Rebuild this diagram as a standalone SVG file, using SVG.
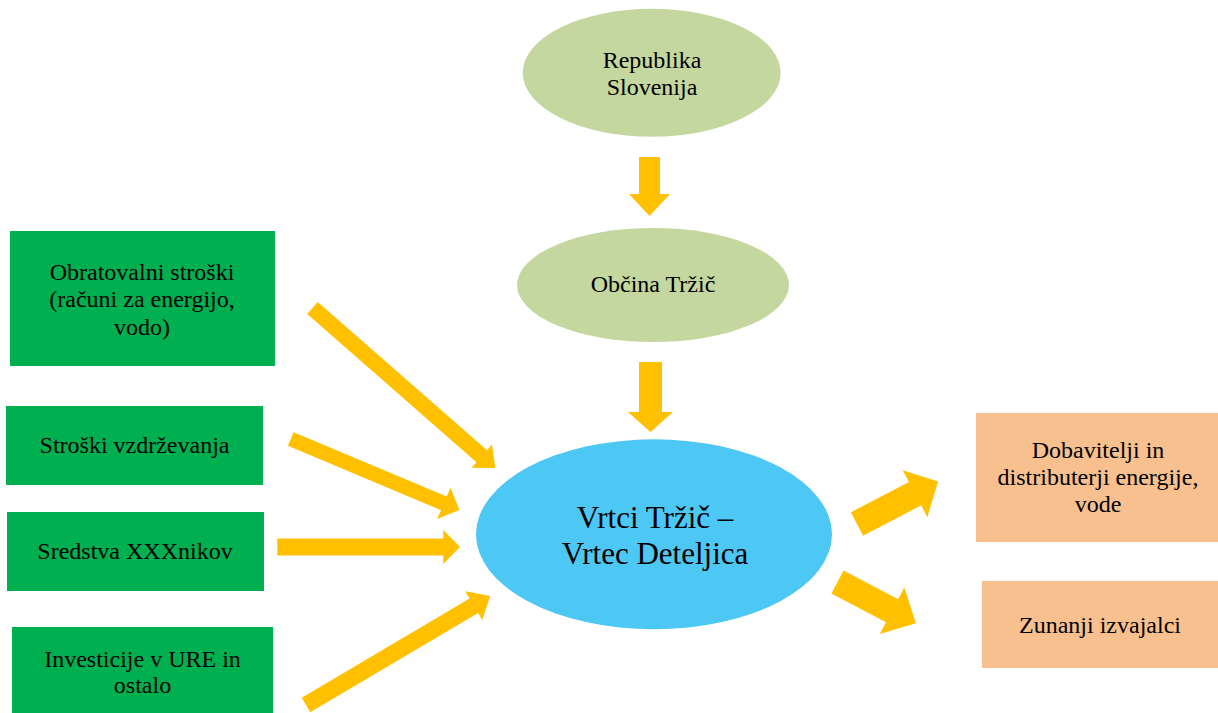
<svg xmlns="http://www.w3.org/2000/svg" width="1218" height="713" viewBox="0 0 1218 713">
<style>
.t{font-family:'Liberation Serif','Times New Roman',Times,serif;font-size:24px;fill:#000;text-anchor:middle}
.big{font-size:31px}
.green{fill:#00B050}
.peach{fill:#F8C08F}
.olive{fill:#C4D79F}
.blue{fill:#4DC8F4}
.arrow{fill:#FFC000}
</style>
<rect width="1218" height="713" fill="#fff"/>
<g id="connectors">
<polygon class="arrow" transform="translate(312.5,308) rotate(41.2)" points="0,-8 225,-8 225,-15.5 243,0 225,15.5 225,8 0,8"/>
<polygon class="arrow" transform="translate(290.8,439) rotate(22.8)" points="0,-7.4 166,-7.4 166,-17 183,0 166,17 166,7.4 0,7.4"/>
<polygon class="arrow" transform="translate(277.3,547)" points="0,-8.4 166,-8.4 166,-17 182.7,0 166,17 166,8.4 0,8.4"/>
<polygon class="arrow" transform="translate(306,705) rotate(-30.6)" points="0,-8.3 195,-8.3 195,-16.7 214,0 195,16.7 195,8.3 0,8.3"/>
<polygon class="arrow" transform="translate(857,524) rotate(-27.6)" points="0,-13.2 65.5,-13.2 65.5,-26.5 91.5,0 65.5,26.5 65.5,13.2 0,13.2"/>
<polygon class="arrow" transform="translate(837.5,582) rotate(27.8)" points="0,-13 61.7,-13 61.7,-26.3 88.7,0 61.7,26.3 61.7,13 0,13"/>
<polygon class="arrow" transform="translate(649.5,157) rotate(90)" points="0,-10.5 37,-10.5 37,-20.5 59,0 37,20.5 37,10.5 0,10.5"/>
<polygon class="arrow" transform="translate(650.5,362) rotate(90)" points="0,-11.5 50,-11.5 50,-22.5 70,0 50,22.5 50,11.5 0,11.5"/>
</g>
<g font-family="Liberation Serif, serif">
<g id="republika">
<ellipse class="olive" cx="651.7" cy="72.8" rx="129" ry="64"/>
<text class="t" x="652" y="68">Republika</text>
<text class="t" x="652" y="95">Slovenija</text>
</g>
<g id="obcina">
<ellipse class="olive" cx="653" cy="285" rx="136" ry="57"/>
<text class="t" x="653" y="292">Občina Tržič</text>
</g>
<g id="vrtci">
<ellipse class="blue" cx="654" cy="534.3" rx="178" ry="95"/>
<text class="t big" x="655" y="528">Vrtci Tržič –</text>
<text class="t big" x="655" y="563.5">Vrtec Deteljica</text>
</g>
<g id="obratovalni">
<rect class="green" x="10" y="231" width="265" height="135"/>
<text class="t" x="142" y="279.5">Obratovalni stroški</text>
<text class="t" x="142" y="307">(računi za energijo,</text>
<text class="t" x="142" y="334.5">vodo)</text>
</g>
<g id="vzdrzevanje">
<rect class="green" x="6" y="406" width="257" height="79"/>
<text class="t" x="134.5" y="453.3">Stroški vzdrževanja</text>
</g>
<g id="sredstva">
<rect class="green" x="7" y="512" width="257" height="79"/>
<text class="t" x="135" y="559.3">Sredstva XXXnikov</text>
</g>
<g id="investicije">
<rect class="green" x="12" y="627" width="261" height="86"/>
<text class="t" x="142.5" y="666.7">Investicije v URE in</text>
<text class="t" x="142.5" y="693.3">ostalo</text>
</g>
<g id="dobavitelji">
<rect class="peach" x="976" y="413" width="242" height="129"/>
<text class="t" x="1098" y="458.3">Dobavitelji in</text>
<text class="t" x="1098" y="485">distributerji energije,</text>
<text class="t" x="1098" y="511.7">vode</text>
</g>
<g id="zunanji">
<rect class="peach" x="982" y="581" width="236" height="87"/>
<text class="t" x="1100" y="632.7">Zunanji izvajalci</text>
</g>
</g>
</svg>
